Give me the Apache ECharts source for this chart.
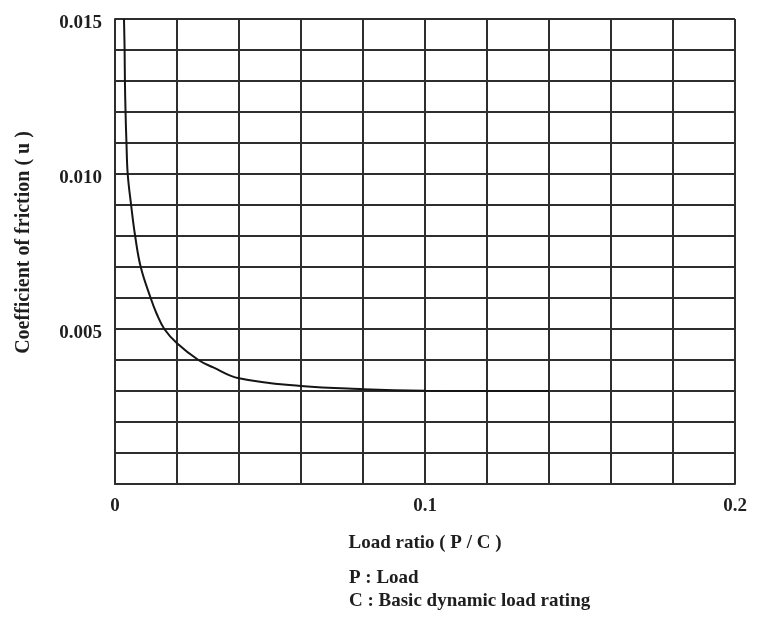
<!DOCTYPE html>
<html>
<head>
<meta charset="utf-8">
<script src="https://cdn.jsdelivr.net/npm/echarts@6/dist/echarts.min.js"></script>
<style>
  html, body { margin: 0; padding: 0; background: #fff; }
  #chart { width: 758px; height: 621px; }
</style>
</head>
<body>
<div id="chart"></div>
<script>
// Load ratio P/C and the matching coefficient of friction
const loadRatio = [0.0029, 0.0031, 0.0032, 0.0034, 0.0037, 0.0041, 0.0052, 0.0065, 0.0083, 0.0115,
                   0.0134, 0.0159, 0.0200, 0.0269, 0.0317, 0.0400, 0.0600, 0.0800,
                   0.1000, 0.1200, 0.1400];
const friction  = [0.0150, 0.0140, 0.0130, 0.0120, 0.0110, 0.0100, 0.0090, 0.0080, 0.0070, 0.0060,
                   0.0055, 0.0050, 0.00454, 0.0040, 0.00376, 0.00341, 0.00316, 0.00306,
                   0.00301, 0.00300, 0.00300];

// Labelled ticks (grid lines are drawn at every step)
const xTickLabels = ['0', '0.1', '0.2'];
const yTickLabels = ['0.005', '0.010', '0.015'];

const xTitle = 'Load ratio ( P / C )';
const yTitle = 'Coefficient of friction ( u )';
const notes = ['P : Load', 'C : Basic dynamic load rating'];

const FONT = '"Liberation Serif", "Times New Roman", serif';
const INK = '#1e1e1e';
const LINE = '#2e2e2e';

const chart = echarts.init(document.getElementById('chart'), null, { renderer: 'canvas' });

function pick(list, v) {
  const hit = list.find(t => Math.abs(parseFloat(t) - v) < 1e-9);
  return hit === undefined ? '' : hit;
}

chart.setOption({
  backgroundColor: '#ffffff',
  animation: false,
  grid: { left: 115, top: 19, width: 620, height: 465, containLabel: false },
  xAxis: {
    type: 'value', min: 0, max: 0.2, interval: 0.02,
    name: xTitle, nameLocation: 'middle', nameGap: 50,
    nameTextStyle: { fontFamily: FONT, fontWeight: 'bold', fontSize: 19, color: INK },
    axisLine: { show: true, lineStyle: { color: LINE, width: 2 } },
    axisTick: { show: false },
    splitLine: { show: true, lineStyle: { color: LINE, width: 2 } },
    axisLabel: {
      margin: 13, fontFamily: FONT, fontWeight: 'bold', fontSize: 19, color: INK,
      formatter: v => pick(xTickLabels, v)
    }
  },
  yAxis: {
    type: 'value', min: 0, max: 0.015, interval: 0.001,
    name: yTitle, nameLocation: 'middle', nameGap: 81,
    nameTextStyle: { fontFamily: FONT, fontWeight: 'bold', fontSize: 20, color: INK, padding: [0, 0, 0, 18] },
    axisLine: { show: true, lineStyle: { color: LINE, width: 2 } },
    axisTick: { show: false },
    splitLine: { show: true, lineStyle: { color: LINE, width: 2 } },
    axisLabel: {
      margin: 13, fontFamily: FONT, fontWeight: 'bold', fontSize: 19, color: INK,
      lineHeight: 9,
      // an empty first line drops each value slightly below its grid line
      formatter: v => { const t = pick(yTickLabels, v); return t ? '\n' + t : ''; }
    }
  },
  series: [{
    type: 'line',
    data: loadRatio.map((x, i) => [x, friction[i]]),
    showSymbol: false,
    smooth: 0.4,
    lineStyle: { color: '#151515', width: 2 },
    z: 5
  }],
  graphic: notes.map((t, i) => ({
    type: 'text',
    left: 349,
    top: 569 + i * 23,
    style: { text: t, fontFamily: FONT, fontWeight: 'bold', fontSize: 19, fill: INK }
  }))
});
</script>
</body>
</html>
